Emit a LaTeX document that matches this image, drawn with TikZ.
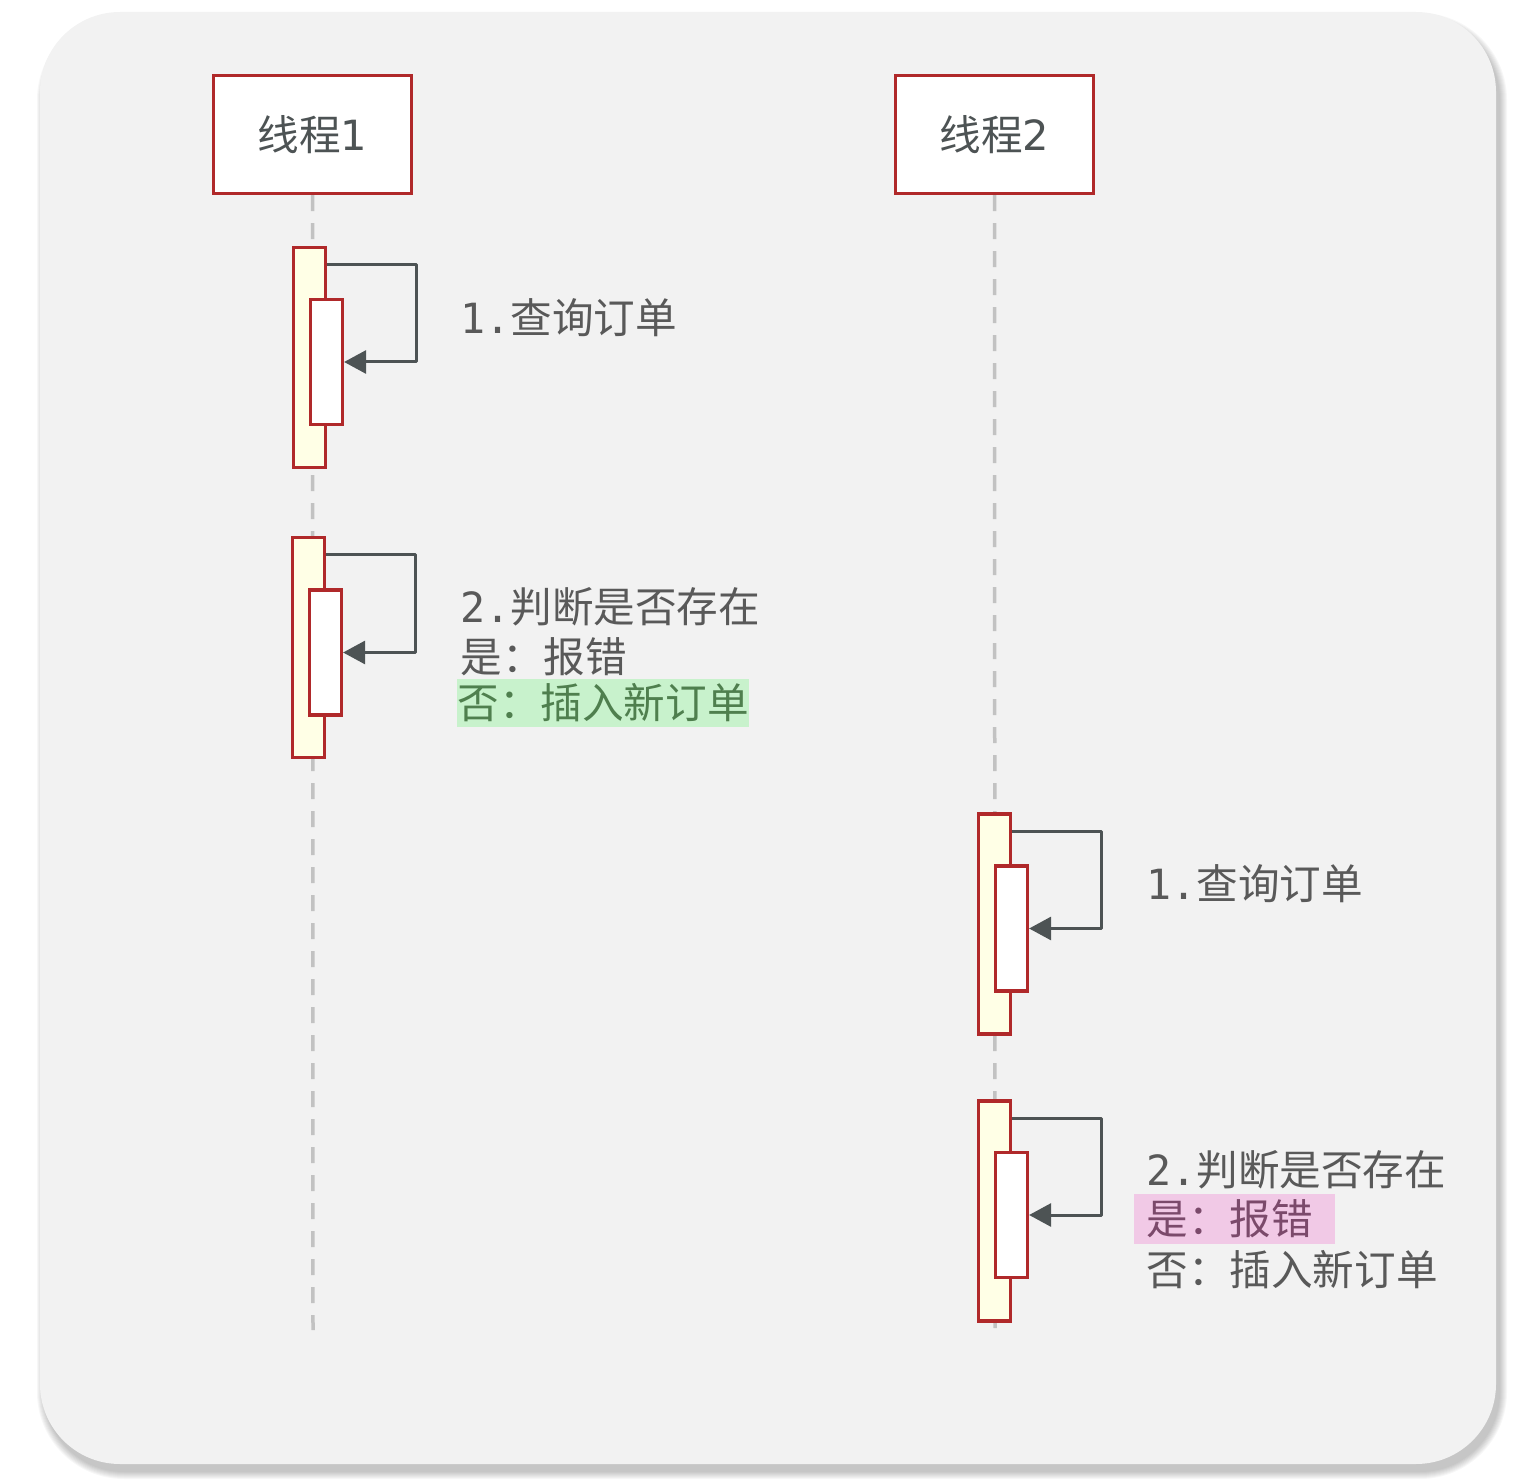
\documentclass[tikz,border=0pt]{standalone}
\usepackage{fontspec}
\setmainfont{Noto Sans CJK SC}
\newfontfamily\digitfont{DejaVu Sans Mono}
\newfontfamily\titledigit{DejaVu Sans}
\usetikzlibrary{arrows.meta}

\definecolor{panelgray}{HTML}{F2F2F2}
\definecolor{threadred}{HTML}{B0292A}
\definecolor{baryellow}{HTML}{FFFFE6}
\definecolor{msggray}{HTML}{4D5354}
\definecolor{textgray}{HTML}{595959}
\definecolor{lifegray}{HTML}{C2C2C2}
\definecolor{yesfill}{HTML}{F1C9E6}
\definecolor{yestext}{HTML}{7B4A6B}
\definecolor{nofill}{HTML}{C8F2CC}
\definecolor{notext}{HTML}{4F7F4E}

\tikzset{
  thread/.style={draw=threadred, line width=1.6pt, fill=white, text=msggray,
    minimum width=99pt, minimum height=59pt, inner sep=0pt},
  lifeline/.style={lifegray, line width=1.75pt, dash pattern=on 8pt off 6pt},
  outerbar/.style={draw=threadred, line width=1.6pt, fill=baryellow,
    minimum width=16pt, minimum height=110pt, inner sep=0pt},
  innerbar/.style={draw=threadred, line width=1.6pt, fill=white,
    minimum width=16pt, minimum height=62.5pt, inner sep=0pt},
  selfmsg/.style={msggray, line width=1.5pt, line join=round,
    -{Triangle[length=11pt,width=11.5pt]}},
  steptext/.style={text=textgray, anchor=west, inner sep=0pt},
  nomark/.style={steptext, fill=nofill, text=notext, minimum height=24pt, inner xsep=0pt},
  yesmark/.style={steptext, fill=yesfill, text=yestext, minimum height=25pt,
    text width=88.5pt, inner xsep=6pt, align=left}
}

\newcommand{\stepno}[1]{{\digitfont #1.}}

\begin{document}
\begin{tikzpicture}[x=0.5pt, y=-0.5pt, font=\fontsize{20.8pt}{25pt}\selectfont]
  \useasboundingbox (0,0) rectangle (1516,1482);
  % panel with soft shadow
  \foreach \s [evaluate=\s as \r using 40+0.5*\s] in {0,...,7}
    \fill[black, opacity=0.032, rounded corners=\r pt] (44-\s,20-\s) rectangle (1500+\s,1472+\s);
  \fill[panelgray, rounded corners=40pt] (40,12) rectangle (1496,1464);

  % threads and lifelines
  \node[thread] (t1) at (312.5,134.5) {线程{\titledigit 1}};
  \node[thread] (t2) at (994.5,134.5) {线程{\titledigit 2}};
  \coordinate (e1) at (313,1330);
  \coordinate (e2) at (995,1328);
  \draw[lifeline] (t1.south) -- (e1);
  \draw[lifeline] (t2.south) -- (e2);

  % thread 1: query
  \node[outerbar] (a1) at (309.5,357.5) {};
  \node[innerbar] (b1) at (326.5,362) {};
  \draw[selfmsg] ([yshift=-9.5pt]a1.north east) -- ++(89,0) |- (b1.east);
  \node[steptext] (q1) at (460,318) {\stepno{1}查询订单};

  % thread 1: check and insert
  \node[outerbar] (a2) at (308.5,647.5) {};
  \node[innerbar] (b2) at (325.5,652.5) {};
  \draw[selfmsg] ([yshift=-9.5pt]a2.north east) -- ++(89,0) |- (b2.east);
  \node[steptext] (c1) at (460,607) {\stepno{2}判断是否存在};
  \node[steptext] (y1) at (460,657) {是：报错};
  \node[nomark] (n1) at (457,703) {否：插入新订单};

  % thread 2: query
  \node[outerbar] (a3) at (994.5,924) {};
  \node[innerbar] (b3) at (1011.5,928.5) {};
  \draw[selfmsg] ([yshift=-9.5pt]a3.north east) -- ++(89,0) |- (b3.east);
  \node[steptext] (q2) at (1146,884) {\stepno{1}查询订单};

  % thread 2: check and report error
  \node[outerbar] (a4) at (994.5,1211) {};
  \node[innerbar] (b4) at (1011.5,1215) {};
  \draw[selfmsg] ([yshift=-9.5pt]a4.north east) -- ++(89,0) |- (b4.east);
  \node[steptext] (c2) at (1146,1170) {\stepno{2}判断是否存在};
  \node[yesmark] (y2) at (1134,1219) {是：报错};
  \node[steptext] (n2) at (1146,1270) {否：插入新订单};
\end{tikzpicture}
\end{document}
